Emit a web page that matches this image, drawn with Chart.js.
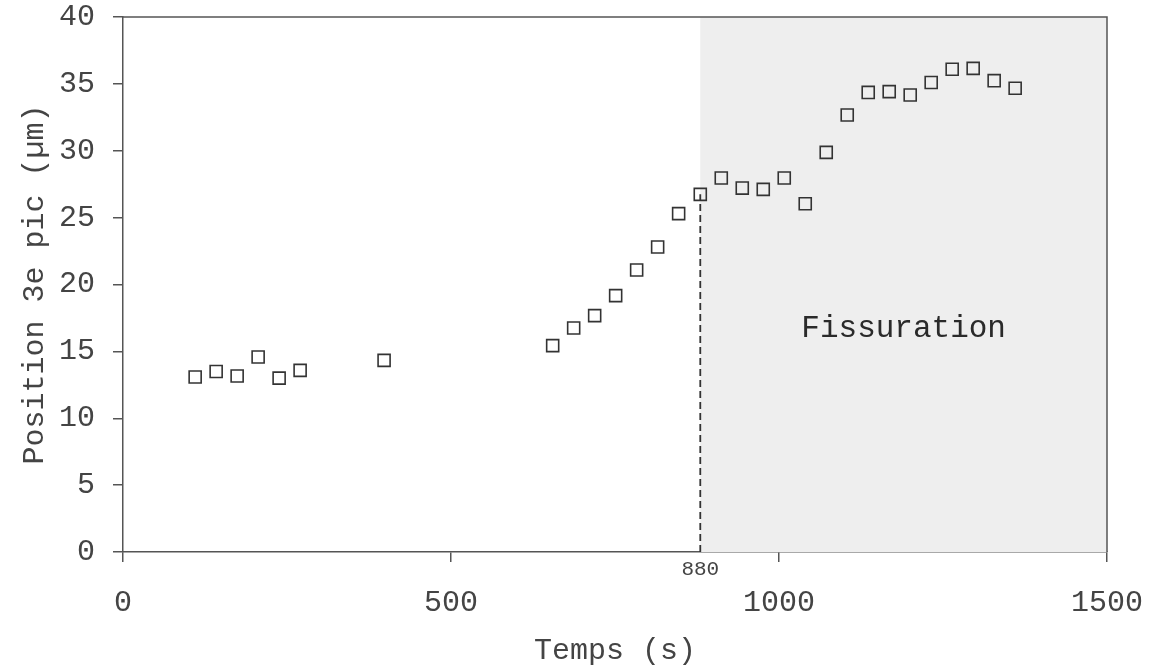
<!DOCTYPE html>
<html>
<head>
<meta charset="utf-8">
<script src="https://cdn.jsdelivr.net/npm/chart.js@4"></script>
<style>
  html, body { margin: 0; padding: 0; background: #fff; }
  #wrap { width: 1149px; height: 669px; position: relative; }
</style>
</head>
<body>
<div id="wrap"><canvas id="peakChart"></canvas></div>
<script>
// temps (s) et position du 3e pic (µm)
const times = [110, 142, 174, 206, 238, 270, 398, 655, 687, 719, 751, 783, 815, 847, 880,
               912, 944, 976, 1008, 1040, 1072, 1104, 1136, 1168, 1200, 1232, 1264, 1296, 1328, 1360];
const peakPos = [13.08, 13.5, 13.16, 14.58, 13.0, 13.58, 14.33, 15.43, 16.75, 17.67, 19.17, 21.08, 22.8, 25.3, 26.74,
                 27.96, 27.21, 27.11, 27.96, 26.04, 29.88, 32.67, 34.36, 34.42, 34.17, 35.1, 36.09, 36.16, 35.24, 34.67];

const xTicks = [0, 500, 1000, 1500];
const yTicks = [0, 5, 10, 15, 20, 25, 30, 35, 40];

const crackStart = 880;
const crackLabel = 'Fissuration';
const crackLabelY = 16.7;

const mono = "'Courier New', 'Nimbus Mono PS', 'Nimbus Mono L', FreeMono, 'Liberation Mono', monospace";
const axisColor = '#555';
const textColor = '#444';

// zone grisée + ligne pointillée à 880 s
const crackZone = {
    id: 'crackZone',
    beforeDatasetsDraw(chart) {
        const { ctx, chartArea, scales: { x, y } } = chart;
        const x0 = x.getPixelForValue(crackStart);
        const x1 = x.getPixelForValue(xTicks[xTicks.length - 1]);
        ctx.save();
        ctx.fillStyle = '#eeeeee';
        ctx.fillRect(x0, chartArea.top, x1 - x0, chartArea.bottom - chartArea.top);

        const i = times.indexOf(crackStart);
        ctx.strokeStyle = '#333';
        ctx.lineWidth = 1.8;
        ctx.setLineDash([7, 4]);
        ctx.beginPath();
        ctx.moveTo(x0, chartArea.bottom);
        ctx.lineTo(x0, y.getPixelForValue(peakPos[i]));
        ctx.stroke();
        ctx.restore();
    },
    afterDraw(chart) {
        const { ctx, chartArea, scales: { x, y } } = chart;
        ctx.save();
        // cadre haut + droite
        ctx.strokeStyle = axisColor;
        ctx.lineWidth = 1.5;
        ctx.beginPath();
        ctx.moveTo(chartArea.left, chartArea.top);
        ctx.lineTo(chartArea.right, chartArea.top);
        ctx.lineTo(chartArea.right, chartArea.bottom);
        ctx.stroke();

        ctx.fillStyle = '#444';
        ctx.font = "21px " + mono;
        ctx.textAlign = 'center';
        ctx.textBaseline = 'middle';
        ctx.fillText(String(crackStart), x.getPixelForValue(crackStart), chartArea.bottom + 17);

        ctx.fillStyle = '#2a2a2a';
        ctx.font = "31px " + mono;
        const cx = x.getPixelForValue((crackStart + xTicks[xTicks.length - 1]) / 2);
        ctx.fillText(crackLabel, cx, y.getPixelForValue(crackLabelY));
        ctx.restore();
    }
};

const ctx = document.getElementById('peakChart').getContext('2d');
new Chart(ctx, {
    type: 'scatter',
    data: {
        datasets: [{
            data: times.map((t, i) => ({ x: t, y: peakPos[i] })),
            pointStyle: 'rect',
            pointRadius: 8.5,
            pointHoverRadius: 8.5,
            borderWidth: 1.6,
            borderColor: '#333',
            backgroundColor: 'rgba(0,0,0,0)'
        }]
    },
    options: {
        responsive: true,
        maintainAspectRatio: false,
        animation: false,
        layout: { padding: 0 },
        plugins: {
            legend: { display: false },
            tooltip: { enabled: false }
        },
        scales: {
            x: {
                type: 'linear',
                min: xTicks[0],
                max: xTicks[xTicks.length - 1],
                afterBuildTicks(scale) { scale.ticks = xTicks.map(v => ({ value: v })); },
                afterFit(scale) {
                    scale.height = 117;
                    scale.paddingLeft = 0;
                    scale.paddingRight = 42;
                },
                grid: { drawOnChartArea: false, drawTicks: true, tickLength: 10, color: axisColor, lineWidth: 1.5 },
                border: { display: true, color: axisColor, width: 1.5 },
                ticks: {
                    color: textColor, padding: 23, maxRotation: 0,
                    font: { family: mono, size: 30 },
                    callback: v => String(v)
                },
                title: {
                    display: true,
                    text: 'Temps (s)',
                    color: textColor,
                    padding: { top: 12, bottom: 0 },
                    font: { family: mono, size: 30 }
                }
            },
            y: {
                type: 'linear',
                min: yTicks[0],
                max: yTicks[yTicks.length - 1],
                afterBuildTicks(scale) { scale.ticks = yTicks.map(v => ({ value: v })); },
                afterFit(scale) {
                    scale.width = 123;
                    scale.paddingTop = 17;
                    scale.paddingBottom = 0;
                },
                grid: { drawOnChartArea: false, drawTicks: true, tickLength: 10, color: axisColor, lineWidth: 1.5 },
                border: { display: true, color: axisColor, width: 1.5 },
                ticks: {
                    color: textColor, padding: 18,
                    font: { family: mono, size: 30 },
                    callback: v => String(v)
                },
                title: {
                    display: true,
                    text: 'Position 3e pic (µm)',
                    color: textColor,
                    padding: { top: 17, bottom: 6 },
                    font: { family: mono, size: 30 }
                }
            }
        }
    },
    plugins: [crackZone]
});
</script>
</body>
</html>
